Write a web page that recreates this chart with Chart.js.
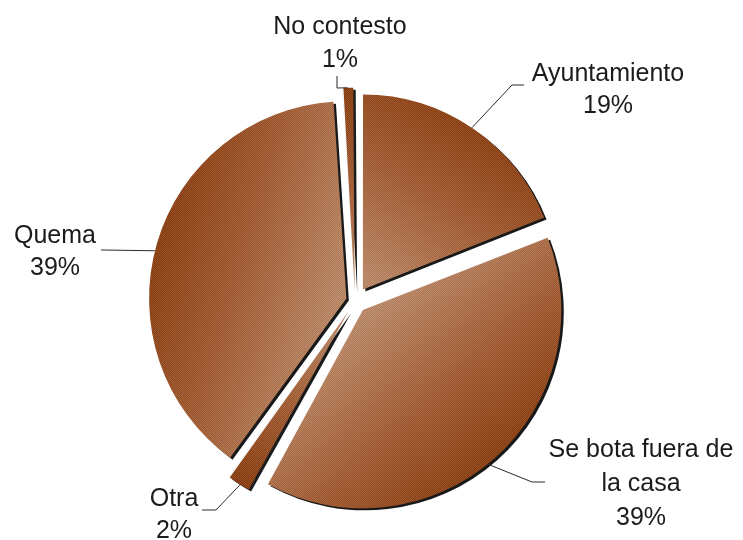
<!DOCTYPE html>
<html>
<head>
<meta charset="utf-8">
<script src="https://cdn.jsdelivr.net/npm/chart.js@4.4.1/dist/chart.umd.min.js"></script>
<style>
  html, body { margin: 0; padding: 0; background: #ffffff; }
  #wrap { width: 743px; height: 540px; position: relative; }
</style>
</head>
<body>
<div id="wrap"><canvas id="chart" width="743" height="540"></canvas></div>
<script>
// Categories, clockwise from 12 o'clock
const categories = ['Ayuntamiento', 'Se bota fuera de la casa', 'Otra', 'Quema', 'No contesto'];
// Category text as it is broken over lines in the labels
const categoryLines = [['Ayuntamiento'], ['Se bota fuera de', 'la casa'], ['Otra'], ['Quema'], ['No contesto']];
// Share of answers (%)
const shares = [19, 39, 2, 39, 1];

// Pie geometry and styling
const PIE_RADIUS = 194;
const explodePx = [14, 12, 12, 9, 10];          // how far each slice is pulled out
const FONT = '25px "Liberation Sans", Arial, Helvetica, sans-serif';
const TEXT_COLOR = '#1b1b1b';

// Label placement: text centre x, line baselines, leader start angle on the rim (deg, clockwise from top),
// leader elbow and leader end next to the text
const labelLayout = [
  { x: 608, y: [81, 113],       rimDeg: 34,  elbow: [512, 85],  end: [524, 85] },
  { x: 641, y: [457, 491, 525], rimDeg: 141, elbow: [532, 482], end: [545, 482] },
  { x: 174, y: [506, 538],      rimDeg: 212, elbow: [216, 510], end: [202, 510] },
  { x: 55,  y: [243, 275],      rimDeg: 284, elbow: [103, 250], end: [101, 250] },
  { x: 340, y: [34, 67],        rimDeg: 358, elbow: [337, 88],  end: [337, 76] }
];

const total = shares.reduce((a, b) => a + b, 0);
function midAngle(i) {
  let before = 0;
  for (let k = 0; k < i; k++) before += shares[k];
  return ((before + shares[i] / 2) / total) * Math.PI * 2 - Math.PI / 2;
}

// Brown shading: lighter near the apex of each slice, darker towards its rim
function sliceFill(ctx) {
  const chart = ctx.chart;
  const area = chart.chartArea;
  if (!area) return '#a0562c';
  const i = ctx.dataIndex;
  const cx = (area.left + area.right) / 2;
  const cy = (area.top + area.bottom) / 2;
  const a = midAngle(i);
  const t = explodePx[i];
  const ax = cx + Math.cos(a) * t, ay = cy + Math.sin(a) * t;
  const g = chart.ctx.createLinearGradient(ax, ay, ax + Math.cos(a) * PIE_RADIUS, ay + Math.sin(a) * PIE_RADIUS);
  g.addColorStop(0, '#bc8764');
  g.addColorStop(0.5, '#a45d33');
  g.addColorStop(1, '#8b3c0d');
  return g;
}

// Fine checkered texture laid over the slices
function makeTexture() {
  const c = document.createElement('canvas');
  c.width = 2; c.height = 2;
  const x = c.getContext('2d');
  x.fillStyle = 'rgba(255,255,255,0.08)';
  x.fillRect(0, 0, 1, 1); x.fillRect(1, 1, 1, 1);
  x.fillStyle = 'rgba(0,0,0,0.06)';
  x.fillRect(1, 0, 1, 1); x.fillRect(0, 1, 1, 1);
  return x.createPattern(c, 'repeat');
}

function sliceGeometry(arc) {
  const p = arc.getProps(['x', 'y', 'startAngle', 'endAngle', 'outerRadius', 'circumference'], true);
  const t = (arc.options.offset || 0) / 4;
  const half = (p.startAngle + p.endAngle) / 2;
  const fix = 1 - Math.sin(Math.min(Math.PI, p.circumference || 0));
  return {
    x: p.x + Math.cos(half) * t,
    y: p.y + Math.sin(half) * t,
    r: p.outerRadius + t * fix,
    start: p.startAngle,
    end: p.endAngle
  };
}

const shadowAndTexture = {
  id: 'shadowAndTexture',
  beforeDatasetsDraw(chart) {
    const c = chart.ctx;
    c.save();
    c.shadowColor = 'rgba(0,0,0,0.9)';
    c.shadowOffsetX = 2.5;
    c.shadowOffsetY = 2;
    c.shadowBlur = 0.6;
  },
  afterDatasetsDraw(chart) {
    const c = chart.ctx;
    c.restore();
    const pattern = makeTexture();
    chart.getDatasetMeta(0).data.forEach(arc => {
      const g = sliceGeometry(arc);
      c.save();
      c.beginPath();
      c.moveTo(g.x, g.y);
      c.arc(g.x, g.y, g.r, g.start, g.end);
      c.closePath();
      c.fillStyle = pattern;
      c.fill();
      c.restore();
    });
  }
};

const sliceLabels = {
  id: 'sliceLabels',
  afterDraw(chart) {
    const c = chart.ctx;
    const arcs = chart.getDatasetMeta(0).data;
    c.save();
    arcs.forEach((arc, i) => {
      const L = labelLayout[i];
      const g = sliceGeometry(arc);
      const a = (L.rimDeg * Math.PI / 180) - Math.PI / 2;
      const sx = g.x + Math.cos(a) * g.r;
      const sy = g.y + Math.sin(a) * g.r;
      c.strokeStyle = '#2a2a2a';
      c.lineWidth = 1;
      c.beginPath();
      c.moveTo(sx, sy);
      c.lineTo(L.elbow[0], L.elbow[1]);
      c.lineTo(L.end[0], L.end[1]);
      c.stroke();

      const lines = categoryLines[i].concat([shares[i] + '%']);
      c.font = FONT;
      c.fillStyle = TEXT_COLOR;
      c.textAlign = 'center';
      c.textBaseline = 'alphabetic';
      lines.forEach((txt, k) => c.fillText(txt, L.x, L.y[k]));
    });
    c.restore();
  }
};

new Chart(document.getElementById('chart'), {
  type: 'pie',
  data: {
    labels: categories,
    datasets: [{
      data: shares,
      backgroundColor: sliceFill,
      borderWidth: 0,
      offset: explodePx.map(v => v * 4)
    }]
  },
  options: {
    responsive: false,
    animation: false,
    radius: PIE_RADIUS,
    layout: { padding: { left: 0, right: 33, top: 62, bottom: 0 } },
    plugins: {
      legend: { display: false },
      tooltip: { enabled: false }
    }
  },
  plugins: [shadowAndTexture, sliceLabels]
});
</script>
</body>
</html>
